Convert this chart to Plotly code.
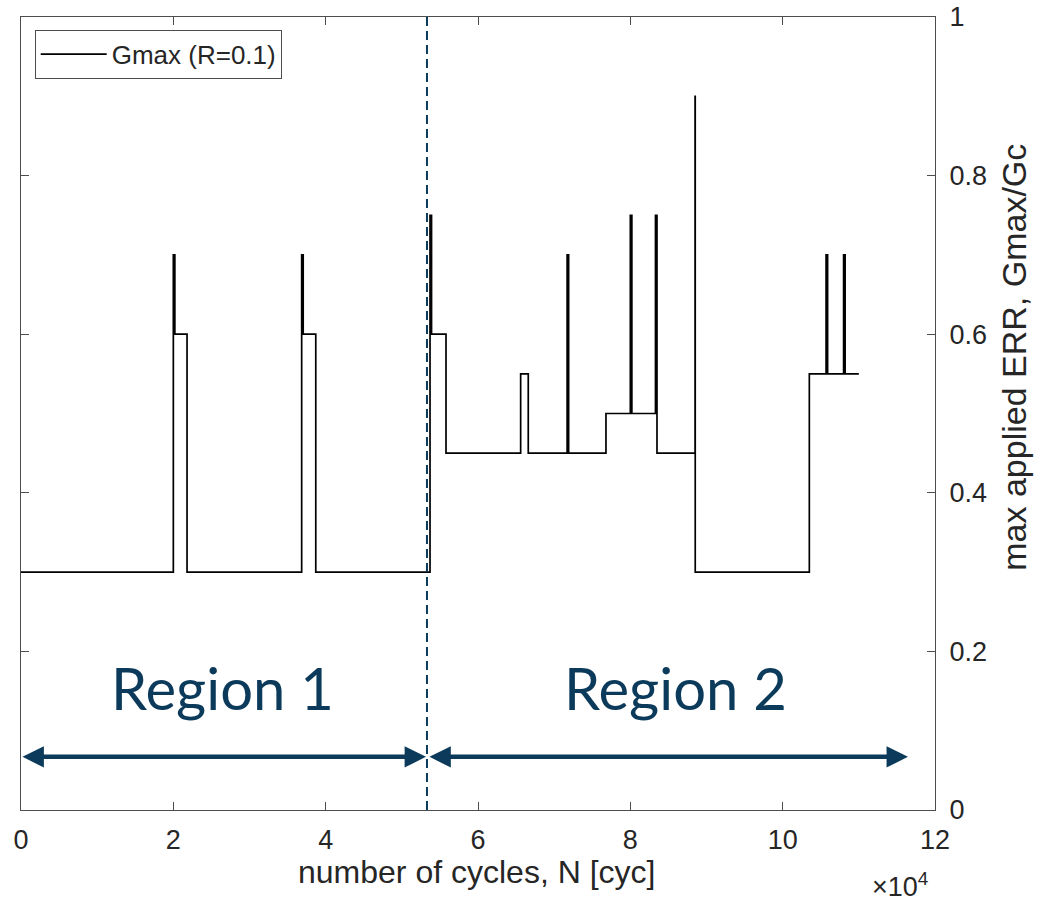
import plotly.graph_objects as go

# ---- data (cycles, Gmax/Gc), step ("hv") series ----
cycles = [0, 20000, 20200, 21800, 36850, 37050, 38700,
          53700, 53900, 55800, 65600, 66600, 71700, 71900,
          76800, 80000, 80200, 83300, 83500, 88500, 88520,
          103500, 105700, 105900, 108000, 108200, 110000]
gmax = [0.30, 0.70, 0.60, 0.30, 0.70, 0.60, 0.30,
        0.75, 0.60, 0.45, 0.55, 0.45, 0.70, 0.45,
        0.50, 0.75, 0.50, 0.75, 0.45, 0.90, 0.30,
        0.55, 0.70, 0.55, 0.70, 0.55, 0.55]

series_name = "Gmax (R=0.1)"
x_tick_vals = [0, 20000, 40000, 60000, 80000, 100000, 120000]
x_tick_text = ["0", "2", "4", "6", "8", "10", "12"]
y_tick_vals = [0, 0.2, 0.4, 0.6, 0.8, 1.0]
y_tick_text = ["0", "0.2", "0.4", "0.6", "0.8", "1"]

region_boundary = 53300
region_labels = ["Region 1", "Region 2"]
region_label_x = [26400, 85900]
region_label_y = 0.154
arrow_y = 0.067
arrow_spans = [(0, 53170), (53430, 116450)]

NAVY = "#0b3a5b"
AXC = "#4d4d4d"
TXT = "#262626"
FONT = "Liberation Sans, Arial, sans-serif"

fig = go.Figure()
fig.add_trace(go.Scatter(
    x=cycles, y=gmax, mode="lines", line_shape="hv",
    line=dict(color="black", width=1.7), name=series_name, showlegend=True))

fig.add_shape(type="line", xref="x", yref="y", x0=region_boundary, x1=region_boundary,
              y0=0, y1=1, line=dict(color=NAVY, width=2, dash="9px,5px"))

annotations = []
for (a, b) in arrow_spans:
    annotations.append(dict(x=b, y=arrow_y, ax=a, ay=arrow_y, xref="x", yref="y",
                            axref="x", ayref="y", text="", showarrow=True,
                            arrowhead=2, startarrowhead=2, arrowside="end+start",
                            arrowwidth=4.5, arrowsize=0.95, startarrowsize=0.95,
                            arrowcolor=NAVY))
for lbl, lx in zip(region_labels, region_label_x):
    annotations.append(dict(x=lx, y=region_label_y, xref="x", yref="y", text=lbl,
                            xanchor="center", yanchor="middle", showarrow=False,
                            font=dict(family="Lato, Noto Sans, sans-serif",
                                      size=58, color=NAVY)))
annotations.append(dict(x=0.962, y=-0.095, xref="paper", yref="paper",
                        xanchor="center", yanchor="middle",
                        text="×10<sup>4</sup>", showarrow=False,
                        font=dict(family=FONT, size=27, color=TXT)))
annotations.append(dict(x=0.498, y=-0.078, xref="paper", yref="paper",
                        xanchor="center", yanchor="middle",
                        text="number of cycles, N [cyc]", showarrow=False,
                        font=dict(family=FONT, size=32, color=TXT)))
annotations.append(dict(x=1.087, y=0.571, xref="paper", yref="paper",
                        xanchor="center", yanchor="middle",
                        text="max applied ERR, Gmax/Gc", textangle=-90, showarrow=False,
                        font=dict(family=FONT, size=34, color=TXT)))

fig.update_layout(
    width=1043, height=903,
    margin=dict(l=21, r=108, t=17, b=93, autoexpand=False),
    paper_bgcolor="white", plot_bgcolor="white",
    showlegend=True,
    legend=dict(x=0.015, y=0.984, xanchor="left", yanchor="top",
                bordercolor=AXC, borderwidth=1, bgcolor="white", itemwidth=66,
                font=dict(family=FONT, size=26, color=TXT)),
    annotations=annotations,
    font=dict(family=FONT, color=TXT),
)
fig.update_xaxes(range=[0, 120000], tickvals=x_tick_vals, ticktext=x_tick_text,
                 showgrid=False, zeroline=False, showline=True, linecolor=AXC,
                 linewidth=1.2, mirror="ticks", ticks="inside", ticklen=8,
                 tickcolor=AXC, tickfont=dict(family=FONT, size=27, color=TXT),
                 ticklabelstandoff=5, automargin=False, ticklabeloverflow="allow")
fig.update_yaxes(range=[0, 1], tickvals=y_tick_vals, ticktext=y_tick_text, side="right",
                 showgrid=False, zeroline=False, showline=True, linecolor=AXC,
                 linewidth=1.2, mirror="ticks", ticks="inside", ticklen=8,
                 tickcolor=AXC, tickfont=dict(family=FONT, size=27, color=TXT),
                 ticklabelstandoff=8, automargin=False, ticklabeloverflow="allow")

# remove the default 8px page margin so the figure fills the window exactly
fig.write_html("out.html", config={"displayModeBar": False},
               post_script="document.body.style.margin='0';"
                           "document.body.style.overflow='hidden';")
